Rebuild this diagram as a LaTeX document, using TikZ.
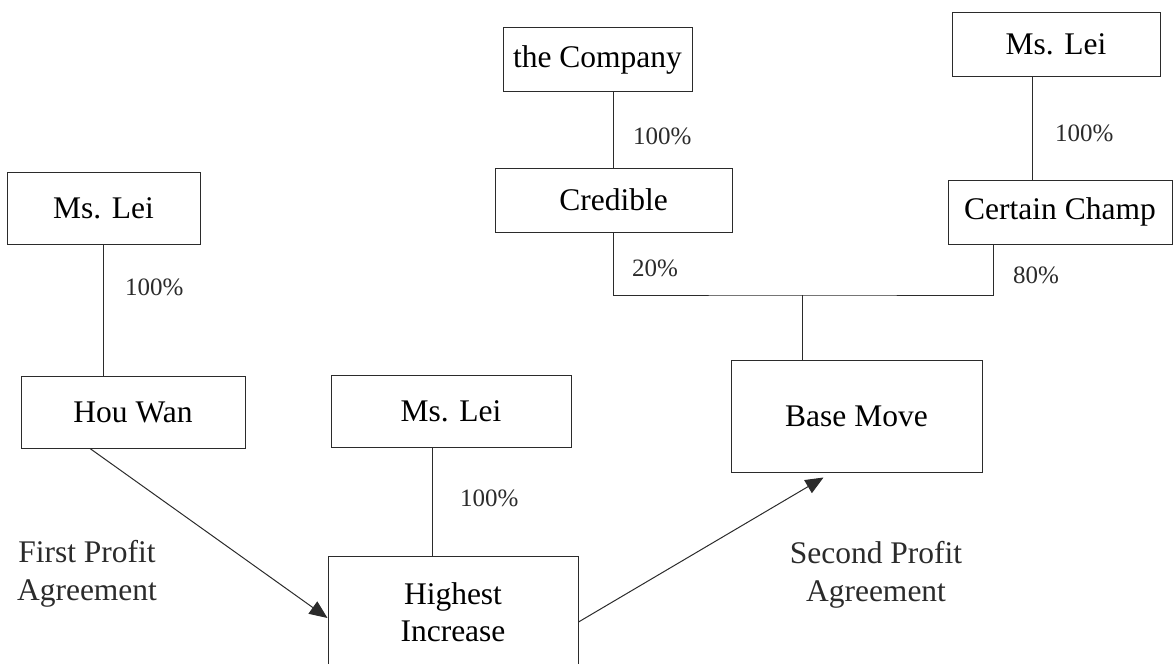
\documentclass[tikz,border=0pt]{standalone}
\usepackage{fontspec}
\setmainfont{Liberation Serif}
\usetikzlibrary{arrows.meta,positioning,calc}
\definecolor{ink}{HTML}{2B2B2B}
\tikzset{
  >={Triangle[length=18pt,width=15pt]},
  entity/.style={draw=ink,line width=1pt,minimum height=64pt,inner sep=0pt,
                 align=center,font=\fontsize{31.5}{37.5}\selectfont},
  tall/.style={entity,minimum height=72pt},
  stake/.style={anchor=west,inner sep=0pt,text=ink,font=\fontsize{25}{30}\selectfont},
  note/.style={align=center,inner sep=0pt,text=ink,font=\fontsize{31.5}{37.5}\selectfont},
  link/.style={draw=ink,line width=1pt},
  flow/.style={->,draw=ink,line width=1pt},
}
\begin{document}
\begin{tikzpicture}[x=1pt,y=-1pt]
  \useasboundingbox (0,0) rectangle (1173,664);

  % upper holding chain
  \node[entity,minimum width=189pt] (company) at (597.5,59.5) {the Company};
  \node[entity,minimum width=237pt] (credible) at (613.5,200) {Credible};
  \node[entity,minimum width=208pt] (leiR) at (1056,44) {Ms. Lei};
  \node[entity,minimum width=224pt] (champ) at (1060,212) {Certain Champ};
  \node[entity,minimum width=251pt,minimum height=112pt] (basemove) at (856.5,416) {Base Move};

  % left side
  \node[tall,minimum width=193pt] (leiL) at (103.5,208) {Ms. Lei};
  \node[tall,minimum width=224pt] (houwan) at (133,412) {Hou Wan};
  \node[tall,minimum width=240pt] (leiM) at (451,411) {Ms. Lei};
  \node[entity,minimum width=250pt,minimum height=112pt] (highest) at (453,612) {Highest\\Increase};

  % shareholdings
  \draw[link] (credible.north) -- (credible.north |- company.south);
  \draw[link] ([xshift=-24pt]leiR.south) -- ([xshift=-24pt]leiR.south |- champ.north);
  \draw[link] (leiL.south) -- (leiL.south |- houwan.north);
  \draw[link] ([xshift=-19pt]leiM.south) -- ([xshift=-19pt]leiM.south |- highest.north);
  \coordinate (join) at (802,295);
  \draw[link] (credible.south) |- (join) -| ([xshift=-67pt]champ.south);
  \draw[link] (join) -- (join |- basemove.north);

  \node[stake] (pcomp) at (633,136) {100\%};
  \node[stake] (plei) at (1055,133) {100\%};
  \node[stake] (pcred) at (632,268) {20\%};
  \node[stake] (pchamp) at (1013,275) {80\%};
  \node[stake] (phou) at (125,287) {100\%};
  \node[stake] (phigh) at (460,498) {100\%};

  % profit agreements
  \draw[flow] ([xshift=-43pt]houwan.south) -- ([yshift=-6pt]highest.west);
  \draw[flow] ([yshift=-10pt]highest.east) -- ([xshift=-33pt,yshift=-5pt]basemove.south);
  \node[note] (first) at (87,574) {First Profit\\Agreement};
  \node[note] (second) at (876,575) {Second Profit\\Agreement};
\end{tikzpicture}
\end{document}
